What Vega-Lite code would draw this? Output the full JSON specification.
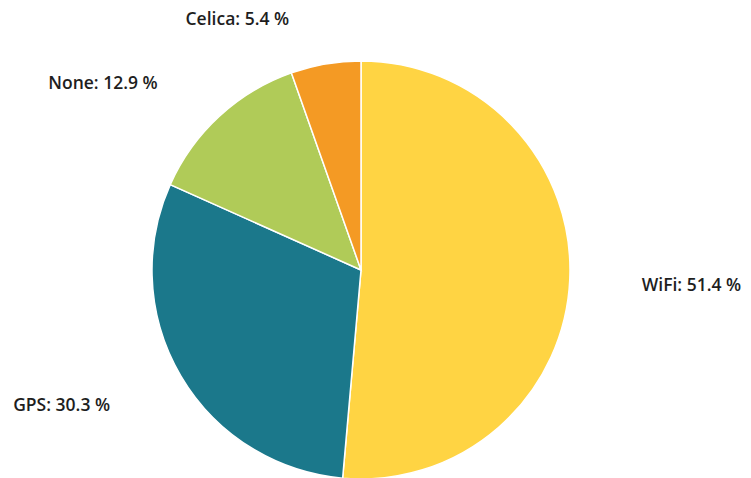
{
  "$schema": "https://vega.github.io/schema/vega-lite/v6.json",
  "autosize": "none",
  "width": 722,
  "height": 416,
  "padding": {"left": 0, "top": 62, "right": 29, "bottom": 0},
  "background": "white",
  "config": {"view": {"stroke": null}, "text": {"font": "Open Sans", "fontSize": 17.5, "fontWeight": 600, "fill": "#1e1e1e"}},
  "data": {"values": [
    {"category": "WiFi", "value": 51.4, "label": "WiFi: 51.4 %"},
    {"category": "GPS", "value": 30.3, "label": "GPS: 30.3 %"},
    {"category": "None", "value": 12.9, "label": "None: 12.9 %"},
    {"category": "Celica", "value": 5.4, "label": "Celica: 5.4 %"}
  ]},
  "encoding": {
    "theta": {"field": "value", "type": "quantitative", "stack": true},
    "order": {"field": "value", "type": "quantitative", "sort": "descending"}
  },
  "layer": [
    {
      "mark": {"type": "arc", "radius": 209, "stroke": "white", "strokeWidth": 1.5},
      "encoding": {
        "color": {"field": "category", "type": "nominal", "legend": null,
          "scale": {"domain": ["WiFi", "GPS", "None", "Celica"], "range": ["#FFD443", "#1B788B", "#B0CB58", "#F49A24"]}}
      }
    },
    {
      "mark": {"type": "text", "radius": 281, "align": "left", "baseline": "middle", "dy": 4},
      "encoding": {"text": {"condition": {"test": "datum.category == 'WiFi'", "field": "label"}, "value": ""}}
    },
    {
      "mark": {"type": "text", "radius": 291, "align": "right", "baseline": "middle", "dy": -11},
      "encoding": {"text": {"condition": {"test": "datum.category == 'GPS'", "field": "label"}, "value": ""}}
    },
    {
      "mark": {"type": "text", "radius": 275, "align": "right", "baseline": "middle", "dx": -17, "dy": 16},
      "encoding": {"text": {"condition": {"test": "datum.category == 'None'", "field": "label"}, "value": ""}}
    },
    {
      "mark": {"type": "text", "radius": 254, "align": "right", "baseline": "middle", "dx": -29, "dy": 0},
      "encoding": {"text": {"condition": {"test": "datum.category == 'Celica'", "field": "label"}, "value": ""}}
    }
  ]
}
